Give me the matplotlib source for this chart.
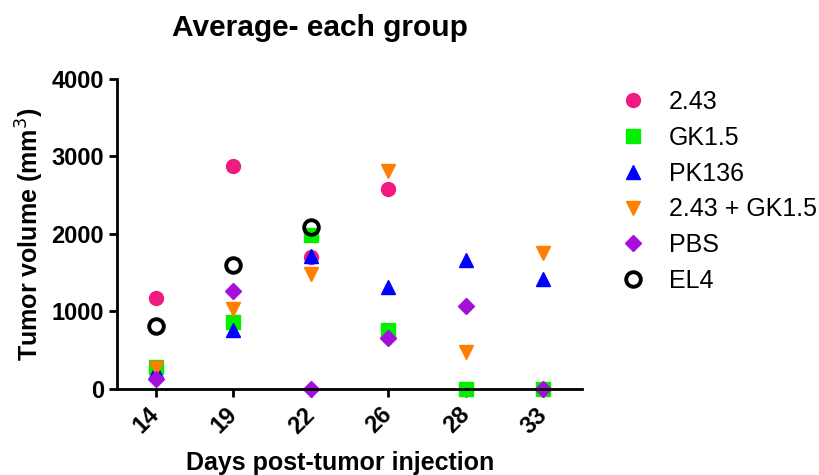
import numpy as np
import matplotlib
matplotlib.use('Agg')
import matplotlib.pyplot as plt

plt.rcParams['font.family'] = ['Liberation Sans', 'DejaVu Sans']

# days post injection (plotted as evenly spaced categories)
days = ['14', '19', '22', '26', '28', '33']

# group means, mm^3 (None = no data that day)
g_243 = [1180, 2875, 1705, 2580, None, None]
g_gk15 = [285, 860, 1990, 760, 0, 0]
g_pk136 = [235, 760, 1715, 1320, 1665, 1415]
g_combo = [265, 1030, 1485, 2815, 480, 1750]
g_pbs = [125, 1265, 0, 655, 1070, 0]
g_el4 = [810, 1600, 2085, None, None, None]

groups = ['2.43', 'GK1.5', 'PK136', '2.43 + GK1.5', 'PBS', 'EL4']
series = [g_243, g_gk15, g_pk136, g_combo, g_pbs, g_el4]

styles = [
    dict(marker='o', color='#F01A80', ms=10),
    dict(marker='s', color='#00F000', ms=9.5),
    dict(marker='^', color='#0000FF', ms=10),
    dict(marker='v', color='#FF7F00', ms=10),
    dict(marker='D', color='#A50FDC', ms=8.5),
    dict(marker='o', color='black', ms=10.5, mfc='none', mew=2.8),
]

fig = plt.figure(figsize=(8.2, 4.75), dpi=100)
ax = fig.add_axes([0.1427, 0.181, 0.5673, 0.653])

x = np.arange(len(days))
for name, vals, st in zip(groups, series, styles):
    xs = [xi for xi, v in zip(x, vals) if v is not None]
    ys = [v for v in vals if v is not None]
    st = dict(st)
    color = st.pop('color')
    mfc = st.pop('mfc', color)
    ms = st.pop('ms')
    ax.plot(xs, ys, linestyle='none', color=color, mfc=mfc, mec=color,
            markersize=ms, label=name, clip_on=False, **st)

ax.set_xlim(-0.5, 5.5)
ax.set_ylim(0, 4000)
ax.set_yticks([0, 1000, 2000, 3000, 4000])
ax.set_xticks(x)
ax.set_xticklabels(days, rotation=45, ha='right', va='center',
                   rotation_mode='anchor')

for s in ['top', 'right']:
    ax.spines[s].set_visible(False)
for s in ['left', 'bottom']:
    ax.spines[s].set_linewidth(2)

ax.tick_params(width=2, length=6, labelsize=17)
ax.tick_params(axis='x', pad=10)
for lab in ax.get_xticklabels() + ax.get_yticklabels():
    lab.set_fontweight('bold')

ax.set_xlabel('Days post-tumor injection', fontsize=18, fontweight='bold')
ax.xaxis.set_label_coords(0.48, -0.2)
ax.set_ylabel('Tumor volume (mm$^3$)', fontsize=18, fontweight='bold', labelpad=4)
fig.text(0.39, 0.94, 'Average- each group', fontsize=21.5, fontweight='bold',
         ha='center', va='center')

leg = ax.legend(loc='upper left', bbox_to_anchor=(1.017, 1.02), frameon=False,
                fontsize=18, handletextpad=0.45, labelspacing=0.47, numpoints=1,
                borderaxespad=0.3)

fig.savefig('out.png', dpi=100)
